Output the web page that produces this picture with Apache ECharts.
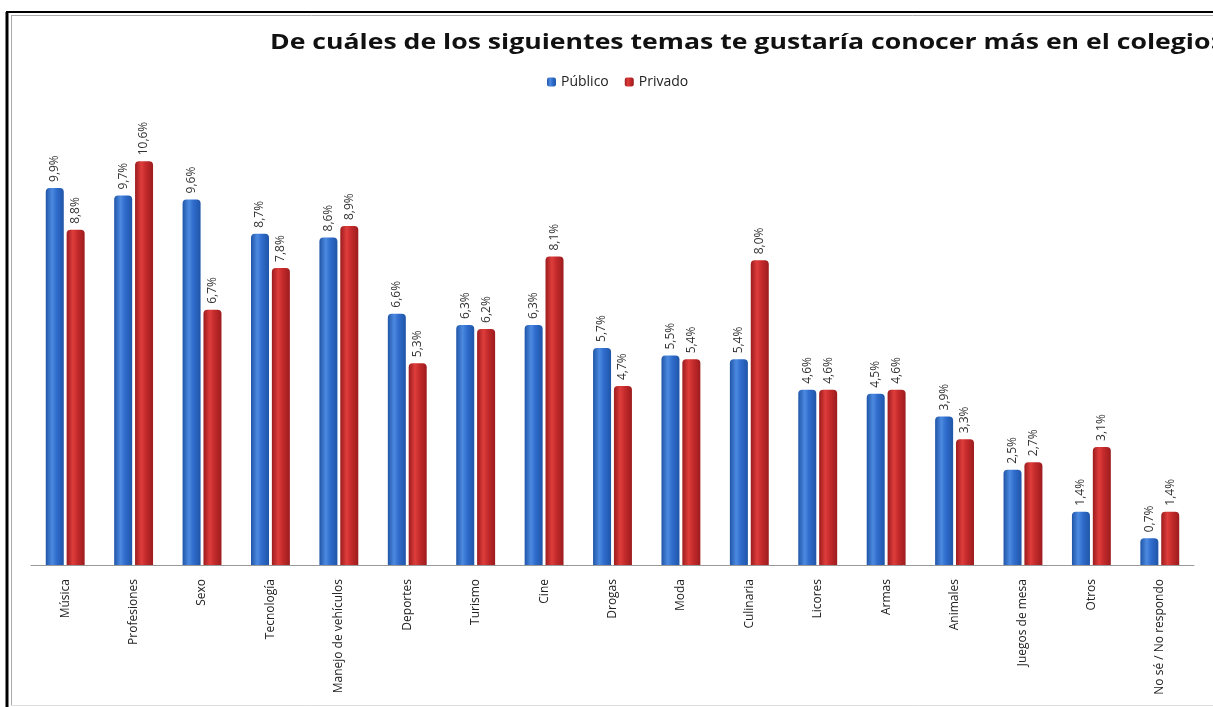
<!DOCTYPE html>
<html><head><meta charset="utf-8">
<script src="https://cdn.jsdelivr.net/npm/echarts@6/dist/echarts.min.js"></script>
<style>html,body{margin:0;padding:0;background:#fff}#c{width:1213px;height:707px}</style>
</head><body><div id="c"></div>
<script>
const titleText = "De cuáles de los siguientes temas te gustaría conocer más en el colegio:";
const categories = ["Música","Profesiones","Sexo","Tecnología","Manejo de vehículos","Deportes","Turismo","Cine","Drogas","Moda","Culinaria","Licores","Armas","Animales","Juegos de mesa","Otros","No sé / No respondo"];
const publico = [9.9,9.7,9.6,8.7,8.6,6.6,6.3,6.3,5.7,5.5,5.4,4.6,4.5,3.9,2.5,1.4,0.7];
const privado = [8.8,10.6,6.7,7.8,8.9,5.3,6.2,8.1,4.7,5.4,8.0,4.6,4.6,3.3,2.7,3.1,1.4];
const seriesNames = ["Público","Privado"];

const chart = echarts.init(document.getElementById('c'));
function grad(dark, mid, light){
  return new echarts.graphic.LinearGradient(0,0,1,0,[
    {offset:0,color:dark},{offset:0.35,color:light},{offset:0.6,color:mid},{offset:1,color:dark}]);
}
const fmt = p => String(p.value.toFixed(1)).replace('.', ',') + '%';
const labelCfg = {show:true, position:'top', rotate:90, align:'left', verticalAlign:'middle', distance:6,
  formatter: fmt, fontFamily:'Open Sans, sans-serif', fontSize:12, color:'#333'};
chart.setOption({
  animation:false,
  legend:{data:seriesNames, left:542, top:70, itemWidth:9, itemHeight:9, itemGap:16,
    textStyle:{fontFamily:'Open Sans, sans-serif', fontSize:14, color:'#222'}},
  grid:{left:31, right:19, top:108, bottom:142, containLabel:false},
  xAxis:{type:'category', data:categories,
    axisLine:{lineStyle:{color:'#999', width:1}}, axisTick:{show:false},
    axisLabel:{rotate:90, interval:0, margin:14, fontFamily:'Open Sans, sans-serif', fontSize:12, color:'#222'}},
  yAxis:{type:'value', min:0, max:12, show:false, splitLine:{show:false}},
  graphic:[
    {type:'line', shape:{x1:6,y1:12,x2:1213,y2:12}, style:{stroke:'#000', lineWidth:2}},
    {type:'line', shape:{x1:7,y1:12,x2:7,y2:707}, style:{stroke:'#000', lineWidth:3}},
    {type:'line', shape:{x1:11,y1:15.5,x2:1213,y2:15.5}, style:{stroke:'#aaa', lineWidth:1}},
    {type:'line', shape:{x1:11.5,y1:15,x2:11.5,y2:705}, style:{stroke:'#aaa', lineWidth:1}},
    {type:'line', shape:{x1:11,y1:705.5,x2:1213,y2:705.5}, style:{stroke:'#ddd', lineWidth:1}},
    {type:'text', x:270, y:43, scaleX:1.21, originX:0, originY:0,
      style:{text:titleText, font:'bold 22px "Open Sans", sans-serif', fill:'#111', textVerticalAlign:'middle', verticalAlign:'middle'}}
  ],
  series:[
    {name:seriesNames[0], type:'bar', data:publico, barWidth:18, barGap:'16%',
      itemStyle:{color:grad('#1f55a8','#2f6ccc','#4c8ae0'), borderRadius:[4,4,0,0]}, label:labelCfg},
    {name:seriesNames[1], type:'bar', data:privado, barWidth:18,
      itemStyle:{color:grad('#9c1c1e','#c42a2b','#de3d3b'), borderRadius:[4,4,0,0]}, label:labelCfg}
  ]
});
</script></body></html>
